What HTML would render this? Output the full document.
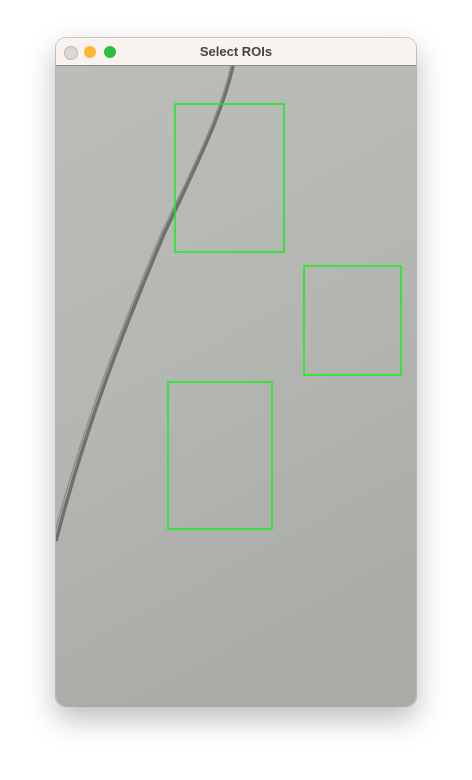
<!DOCTYPE html>
<html><head><meta charset="utf-8"><style>
body{margin:0;width:472px;height:780px;background:#fff;position:relative;overflow:hidden;font-family:"Liberation Sans",sans-serif}
#win{position:absolute;left:56px;top:38px;width:360px;height:668px;border-radius:10px;overflow:hidden;box-shadow:0 12px 30px rgba(0,0,0,0.28),0 0 0 1px rgba(0,0,0,0.18)}
#bar{position:absolute;left:0;top:0;width:360px;height:28px;background:#f9f3ef;border-bottom:1px solid #8a8a8a;box-sizing:border-box}
.dot{position:absolute;top:8px;width:12px;height:12px;border-radius:50%}
#title{position:absolute;left:0;right:0;top:6px;text-align:center;font-weight:bold;font-size:13px;color:#444}
#img{position:absolute;left:0;top:28px}
</style></head><body>
<div id="win">
<div id="bar">
<div class="dot" style="left:8px;background:#dcd8d5;border:0.5px solid #bbb"></div>
<div class="dot" style="left:28px;background:#fbb830"></div>
<div class="dot" style="left:48px;background:#2ac13e"></div>
<div id="title">Select ROIs</div>
</div>
<svg id="img" width="360" height="640">
<defs><linearGradient id="g" x1="0" y1="0" x2="0.3" y2="1"><stop offset="0" stop-color="#bbbdb9"/><stop offset="0.5" stop-color="#b5b7b3"/><stop offset="1" stop-color="#aaaca8"/></linearGradient></defs>
<rect width="360" height="640" fill="url(#g)"/>
<path d="M177,0 C168,40 150,80 108,168 C80,235 35,340 0,475" stroke="#6e716f" stroke-width="3.5" fill="none"/>
<path d="M175,0 C166,40 148,80 105,168 C77,235 32,340 -2,470" stroke="#8d908e" stroke-width="1.5" fill="none"/>
<g id="rois"></g>
</svg>
</div>
<script>
const roiX=[175,304,168];
const roiY=[104,266,382];
const roiW=[109,97,104];
const roiH=[148,109,147];
const g=document.getElementById('rois');
for(let i=0;i<roiX.length;i++){
 const r=document.createElementNS('http://www.w3.org/2000/svg','rect');
 r.setAttribute('x',roiX[i]-56);r.setAttribute('y',roiY[i]-66);
 r.setAttribute('width',roiW[i]);r.setAttribute('height',roiH[i]);
 r.setAttribute('fill','none');r.setAttribute('stroke','#14f014');r.setAttribute('stroke-width','1.5');
 
 
 g.appendChild(r);
}
</script>
</body></html>
